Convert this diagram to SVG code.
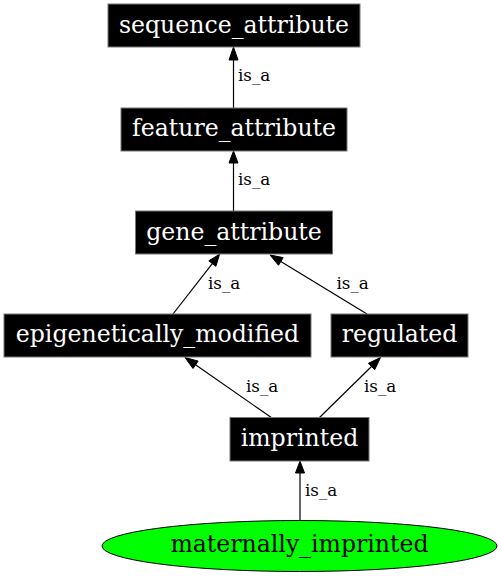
<svg xmlns="http://www.w3.org/2000/svg" width="502" height="576" viewBox="0 0 502 576">
<style>
.box{fill:#000;stroke:#777;stroke-width:1}
.nl{font-family:"DejaVu Serif",serif;font-size:23.6px;fill:#fff;text-anchor:middle}
.ml{font-family:"DejaVu Serif",serif;font-size:23.6px;fill:#000;text-anchor:middle}
.el{font-family:"DejaVu Serif",serif;font-size:16.8px;fill:#000}
.edge{stroke:#000;stroke-width:1.2;fill:none}
.ah{fill:#000;stroke:#000;stroke-width:1}
</style>
<rect width="502" height="576" fill="#fff"/>
<g id="edges">
<g id="e_feature_seq"><line class="edge" x1="233.5" y1="108" x2="233.5" y2="60"/><polygon class="ah" points="233.5,47 229,60 238,60"/><text class="el" x="238" y="81">is_a</text></g>
<g id="e_gene_feature"><line class="edge" x1="233.5" y1="211" x2="233.5" y2="163"/><polygon class="ah" points="233.5,151 229,163 238,163"/><text class="el" x="238" y="185">is_a</text></g>
<g id="e_epi_gene"><line class="edge" x1="173" y1="314" x2="212.3" y2="263.6"/><polygon class="ah" points="219.5,254.3 208.8,260.8 215.9,266.3"/><text class="el" x="208" y="289">is_a</text></g>
<g id="e_reg_gene"><line class="edge" x1="367" y1="314" x2="280.8" y2="261.5"/><polygon class="ah" points="270,255 278.5,265.3 283.2,257.6"/><text class="el" x="336.5" y="289">is_a</text></g>
<g id="e_imp_epi"><line class="edge" x1="272" y1="418" x2="195.5" y2="364.8"/><polygon class="ah" points="185,357.5 193,368.5 198.1,361.1"/><text class="el" x="246" y="392">is_a</text></g>
<g id="e_imp_reg"><line class="edge" x1="319" y1="418" x2="371.5" y2="366.5"/><polygon class="ah" points="380.5,357.5 368.4,363.3 374.7,369.7"/><text class="el" x="364" y="392">is_a</text></g>
<g id="e_mat_imp"><line class="edge" x1="300" y1="521" x2="300" y2="473"/><polygon class="ah" points="300,461 295.5,473 304.5,473"/><text class="el" x="305" y="496">is_a</text></g>
</g>
<g id="sequence_attribute"><rect class="box" x="108" y="4" width="252" height="43"/><text class="nl" x="234" y="33">sequence_attribute</text></g>
<g id="feature_attribute"><rect class="box" x="121" y="108" width="226" height="43"/><text class="nl" x="234" y="136">feature_attribute</text></g>
<g id="gene_attribute"><rect class="box" x="135.5" y="211" width="197" height="43"/><text class="nl" x="234" y="240">gene_attribute</text></g>
<g id="epigenetically_modified"><rect class="box" x="4" y="314" width="307" height="43"/><text class="nl" x="157.5" y="342">epigenetically_modified</text></g>
<g id="regulated"><rect class="box" x="331" y="314" width="137" height="43"/><text class="nl" x="399.5" y="342">regulated</text></g>
<g id="imprinted"><rect class="box" x="230" y="417.5" width="139" height="43.5"/><text class="nl" x="299.5" y="446">imprinted</text></g>
<g id="maternally_imprinted"><ellipse cx="299.5" cy="546" rx="197.5" ry="25.5" fill="#00ff00" stroke="#000" stroke-width="1"/><text class="ml" x="299.5" y="552">maternally_imprinted</text></g>
</svg>
